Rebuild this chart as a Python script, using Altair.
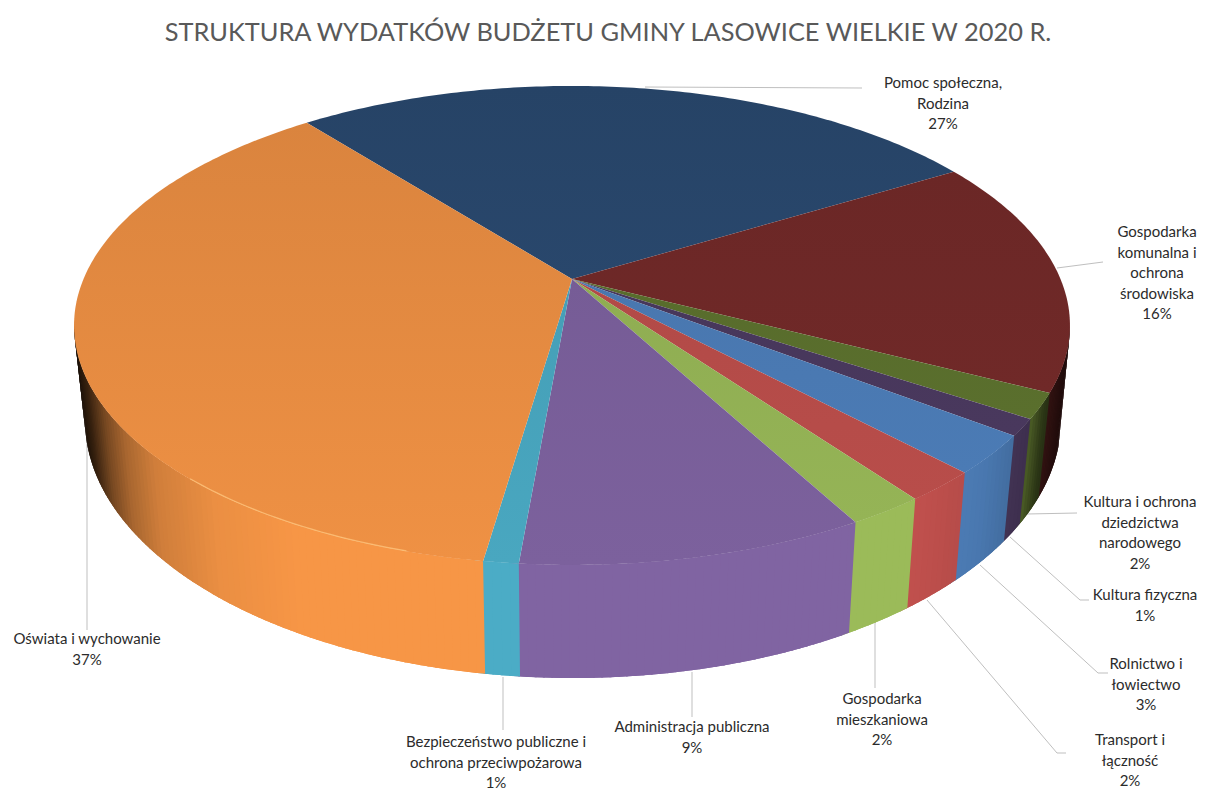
import math
import numpy as np
import pandas as pd
import altair as alt

# --- data ---
TITLE = "STRUKTURA WYDATKÓW BUDŻETU GMINY LASOWICE WIELKIE W 2020 R."
categories = ["Pomoc społeczna, Rodzina", "Gospodarka komunalna i ochrona środowiska",
              "Kultura i ochrona dziedzictwa narodowego", "Kultura fizyczna",
              "Rolnictwo i łowiectwo", "Transport i łączność", "Gospodarka mieszkaniowa",
              "Administracja publiczna", "Bezpieczeństwo publiczne i ochrona przeciwpożarowa",
              "Oświata i wychowanie"]
shares = [27.2, 16.0, 1.7, 1.1, 2.6, 2.05, 2.1, 9.4, 0.95, 36.9]
percent_labels = ["27%", "16%", "2%", "1%", "3%", "2%", "2%", "9%", "1%", "37%"]
colors = ["#2C4D75", "#772C2A", "#5F7530", "#4D3B62", "#4F81BD", "#C0504D", "#9BBB59",
          "#8064A2", "#4BACC6", "#F79646"]
label_lines = [["Pomoc społeczna,", "Rodzina"], ["Gospodarka", "komunalna i", "ochrona", "środowiska"],
               ["Kultura i ochrona", "dziedzictwa", "narodowego"], ["Kultura fizyczna"],
               ["Rolnictwo i", "łowiectwo"], ["Transport i", "łączność"], ["Gospodarka", "mieszkaniowa"],
               ["Administracja publiczna"], ["Bezpieczeństwo publiczne i", "ochrona przeciwpożarowa"],
               ["Oświata i wychowanie"]]

# --- layout (page pixels) ---
label_x = [943, 1157, 1140, 1145, 1146, 1130, 882, 692, 496, 87]
label_y = [83, 232, 502, 595, 664, 740, 699, 727, 742, 639]
line_step = 20.6
leaders = [[(645, 87), (862, 88)], [(1057, 268), (1103, 262)], [(1027, 514), (1077, 513)],
           [(1010, 537), (1080, 600), (1089, 600)], [(980, 565), (1098, 673), (1108, 673)],
           [(927, 600), (1057, 753), (1066, 753)], [(875, 622), (875, 688)], [(692, 672), (692, 717)],
           [(503, 677), (503, 730)], [(87, 420), (87, 630)]]
START = -38.7
CX, CY, A, B, K = 572.0, 279.0, 488.5, 230.5, 0.194
BCX, BCY, BRX, BRY, SHRINK = 573.0, 420.0, 488.0, 258.0, 0.977


def rim(deg):
    r = math.radians(deg)
    u, v = math.sin(r), -math.cos(r)
    w = 1 - K * v
    return CX + A * u / w, CY + B * v / w, v


def base(x):
    x2 = CX + (x - CX) * SHRINK
    t = min(1.0, abs(x2 - BCX) / BRX)
    return x2, BCY + BRY * math.sqrt(1 - t * t)


def shade(hex_color, f):
    c = [int(hex_color[i:i + 2], 16) for i in (1, 3, 5)]
    return "#%02x%02x%02x" % tuple(int(max(0, min(255, round(x * f)))) for x in c)


def side_factor(x):
    t = (x - CX) / 498.0
    return float(np.interp(t, [-1.0, -0.975, -0.94, -0.9, -0.84, -0.72, -0.55, 0.7, 0.83, 0.92, 0.95, 0.985, 1.0],
                           [0.10, 0.22, 0.48, 0.68, 0.84, 0.95, 1.0, 1.0, 0.93, 0.80, 0.45, 0.30, 0.25]))


scale_x = alt.Scale(domain=[8, 1199], nice=False, zero=False)
scale_y = alt.Scale(domain=[791, 8], nice=False, zero=False)
X = alt.X("x:Q", scale=scale_x, axis=None)
Y = alt.Y("y:Q", scale=scale_y, axis=None)

edges = np.concatenate([[0], np.cumsum(shares)]) * 3.6 + START

# side wall strips: each overlaps the next, later strips paint over, so no seams
side_rows = []
strip = 0
for idx, col in enumerate(colors):
    a0, a1 = edges[idx], edges[idx + 1]
    n = max(2, int((a1 - a0) / 0.8))
    for j in range(n):
        s0 = a0 + (a1 - a0) * j / n
        s1 = a0 + (a1 - a0) * (j + 1) / n
        x0, y0, v0 = rim(s0)
        x1, y1, v1 = rim(s1)
        if max(v0, v1) < K:
            continue
        bx0, by0 = base(x0)
        bx1, by1 = base(x1)
        c = shade(col, side_factor((x0 + x1) / 2))
        s2 = min(s1 + 1.0, edges[-1])
        x2, y2, v2 = rim(s2)
        bx2, by2 = base(x2)
        poly = [(x0, y0), (x1, y1), (x2, y2), (bx2, by2), (bx1, by1), (bx0, by0)]
        for i, (px, py) in enumerate(poly):
            side_rows.append(dict(x=px, y=py, i=i, id=strip, color=c))
        strip += 1
side = alt.Chart(pd.DataFrame(side_rows)).mark_line(filled=True, strokeWidth=0).encode(
    x=X, y=Y, order="i:Q", detail="id:O",
    fill=alt.Fill("color:N", scale=None))

# top-face wedges
wedges = []
for idx, col in enumerate(colors):
    a0, a1 = edges[idx], edges[idx + 1]
    n = max(4, int((a1 - a0) / 0.8))
    pts = [(CX, CY)] + [rim(a0 + (a1 - a0) * j / n)[:2] for j in range(n + 1)]
    df = pd.DataFrame([dict(x=p[0], y=p[1], i=i, category=categories[idx]) for i, p in enumerate(pts)])
    ys = [p[1] for p in pts]
    fac = lambda y: float(np.interp(y, [100, 279, 565], [0.875, 0.925, 0.97]))
    grad = alt.LinearGradient(gradient="linear", x1=0, x2=0, y1=0, y2=1,
                              stops=[alt.GradientStop(color=shade(col, fac(min(ys))), offset=0),
                                     alt.GradientStop(color=shade(col, fac(max(ys))), offset=1)])
    wedges.append(alt.Chart(df).mark_line(filled=True, fill=grad, strokeWidth=0).encode(
        x=X, y=Y, order="i:Q"))

# bevel highlight along the orange rim
hl = pd.DataFrame([dict(x=rim(a)[0], y=rim(a)[1] - 0.5, i=i) for i, a in enumerate(np.arange(196, 223, 1.0))])
highlight = alt.Chart(hl).mark_line(color="#FFC77F", strokeWidth=1.2, opacity=0.75).encode(x=X, y=Y, order="i:Q")

# leader lines
lead_rows = []
for k, seg in enumerate(leaders):
    for i, (px, py) in enumerate(seg):
        lead_rows.append(dict(x=px, y=py, i=i, id=k))
lead = alt.Chart(pd.DataFrame(lead_rows)).mark_line(color="#BFBFBF", strokeWidth=1).encode(
    x=X, y=Y, order="i:Q", detail="id:N")

# labels
text_rows = []
for k, lines in enumerate(label_lines):
    for i, s in enumerate(lines + [percent_labels[k]]):
        text_rows.append(dict(x=label_x[k], y=label_y[k] + i * line_step, t=s))
labels = alt.Chart(pd.DataFrame(text_rows)).mark_text(
    font="Lato", fontSize=15, color="#2B2B2B", align="center", baseline="middle").encode(x=X, y=Y, text="t:N")

chart = alt.layer(lead, side, *wedges, highlight, labels).properties(
    width=1191, height=783, padding=0,
    autosize=alt.AutoSizeParams(type="none"),
    background="white",
    title=alt.TitleParams(TITLE, font="Lato", fontSize=25.4, fontWeight="normal", color="#595959",
                          anchor="middle", frame="group", offset=-50, dx=4.5, baseline="middle"),
).configure_view(stroke=None)

chart.save("out.html", embed_options={"renderer": "svg", "actions": False})
